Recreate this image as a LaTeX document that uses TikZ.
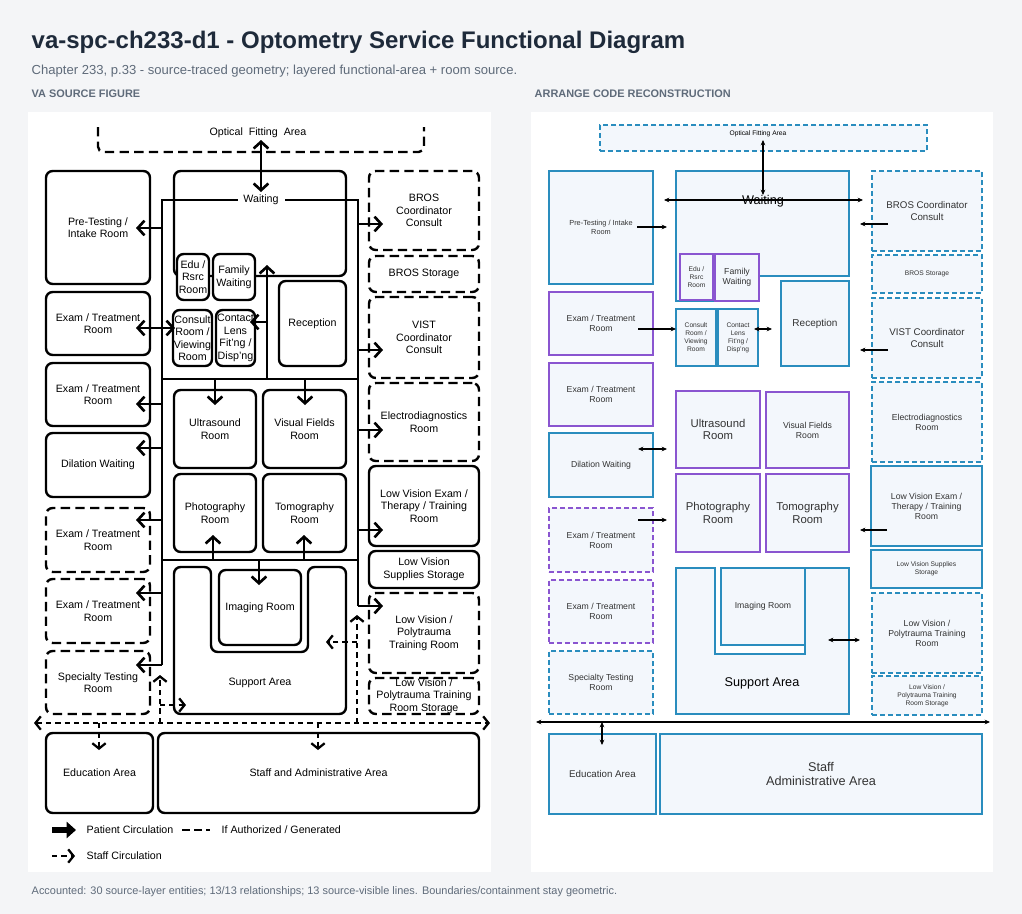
\documentclass[tikz,border=0pt]{standalone}
\usepackage{fontspec}
\setmainfont{Liberation Sans}
\usetikzlibrary{arrows.meta}
\definecolor{pagebg}{HTML}{F4F5F7}
\definecolor{ttl}{HTML}{1E2A3A}
\definecolor{sub}{HTML}{5F6B7A}
\definecolor{bl}{HTML}{2A8DBE}
\definecolor{pu}{HTML}{8A55D0}
\definecolor{lf}{HTML}{F3F7FC}
\newcommand\rb[7]{\node[#1,minimum width={(#5-#3)*0.75pt},minimum height={(#6-#4)*0.75pt}] (#2) at ({(#3+#5)/2},{(#4+#6)/2}) {#7};}
\tikzset{
 sb/.style={draw=black,line width=1.8pt,rounded corners=5pt,fill=white,align=center,inner sep=0pt,font=\fontsize{8}{9.4}\selectfont},
 db/.style={sb,dash pattern=on 7pt off 4pt},
 cor/.style={line width=2.2pt},
 hd/.tip={Straight Barb[length=5pt,width=11pt,line width=2pt]},
 pa/.style={cor,-{hd}},
 pab/.style={cor,{hd}-{hd}},
 sd/.tip={Straight Barb[length=4pt,width=10pt,line width=1.7pt]},
 sa/.style={line width=1.8pt,dash pattern=on 4pt off 3pt,-{sd}},
 sab/.style={line width=1.8pt,dash pattern=on 4pt off 3pt,{sd}-{sd}},
 bb/.style={draw=bl,line width=0.9pt,fill=lf,align=center,inner sep=0pt,text=black!80,font=\fontsize{6.5}{7.5}\selectfont},
 bd/.style={bb,dash pattern=on 3.5pt off 2.5pt},
 pb/.style={bb,draw=pu},
 pd/.style={pb,dash pattern=on 3.5pt off 2.5pt},
 ra/.style={line width=0.9pt,-{Stealth[length=4pt,width=3.5pt]}},
 rab/.style={line width=0.9pt,{Stealth[length=4pt,width=3.5pt]}-{Stealth[length=4pt,width=3.5pt]}},
 f5/.style={font=\fontsize{5}{6}\selectfont},
 f55/.style={font=\fontsize{5.5}{6.3}\selectfont},
 f73/.style={font=\fontsize{7.3}{8.3}\selectfont},
 f85/.style={font=\fontsize{8.5}{9.5}\selectfont},
 big/.style={font=\fontsize{9.5}{10.5}\selectfont},
}
\begin{document}
\begin{tikzpicture}[x=0.75pt,y=-0.75pt]
\useasboundingbox (0,0) rectangle (1022,914);
\fill[pagebg] (0,0) rectangle (1022,914);
\node[anchor=west,text=ttl,font=\fontsize{18}{20}\selectfont\bfseries] (title) at (27,42) {va-spc-ch233-d1 - Optometry Service Functional Diagram};
\node[anchor=west,text=sub,font=\fontsize{9.8}{11}\selectfont] (subt) at (27,71) {Chapter 233, p.33 - source-traced geometry; layered functional-area + room source.};
\node[anchor=west,text=sub,font=\fontsize{8.2}{9}\selectfont\bfseries] (lh) at (27,94) {VA SOURCE FIGURE};
\node[anchor=west,text=sub,font=\fontsize{8.2}{9}\selectfont\bfseries] (rh) at (530,94) {ARRANGE CODE RECONSTRUCTION};
\node[anchor=west,text=sub,font=\fontsize{8.2}{9}\selectfont] (foot) at (27,892) {Accounted: 30 source-layer entities; 13/13 relationships; 13 source-visible lines. Boundaries/containment stay geometric.};
\fill[white] (28,112) rectangle (491,872);
\fill[white] (531,112) rectangle (993,872);
% ===== LEFT =====
\draw[line width=1.8pt,dash pattern=on 7pt off 4pt,rounded corners=4pt] (98,127) -- (98,152) -- (424,152) -- (424,127);
\node[font=\fontsize{8}{9}\selectfont] (lofa) at (258,133) {Optical\ \ Fitting\ \ Area};
\rb{sb}{lpre}{46}{171}{150}{284}{Pre-Testing /\\Intake Room}
\rb{sb}{lex1}{46}{292}{150}{355}{Exam / Treatment\\Room}
\rb{sb}{lex2}{46}{363}{150}{426}{Exam / Treatment\\Room}
\rb{sb}{ldil}{46}{433}{150}{497}{Dilation Waiting}
\rb{db}{lex3}{46}{508}{150}{572}{Exam / Treatment\\Room}
\rb{db}{lex4}{46}{579}{150}{643}{Exam / Treatment\\Room}
\rb{db}{lspe}{46}{651}{150}{714}{Specialty Testing\\Room}
\rb{sb}{lwait}{174}{171}{346}{276}{}
\rb{sb}{ledu}{177}{254}{209}{300}{Edu /\\Rsrc\\Room}
\rb{sb}{lfam}{213}{254}{255}{300}{Family\\Waiting}
\rb{sb}{lcon}{173}{310}{212}{366}{Consult\\Room /\\Viewing\\Room}
\rb{sb}{lcl}{216}{310}{255}{366}{Contact\\Lens\\Fit'ng /\\Disp'ng}
\rb{sb}{lrec}{279}{281}{346}{366}{Reception}
\rb{sb}{lus}{174}{390}{256}{468}{Ultrasound\\Room}
\rb{sb}{lvf}{263}{390}{346}{468}{Visual Fields\\Room}
\rb{sb}{lph}{174}{474}{256}{552}{Photography\\Room}
\rb{sb}{lto}{263}{474}{346}{552}{Tomography\\Room}
\draw[line width=1.8pt,rounded corners=5pt,fill=white] (211,567) -- (211,652) -- (308,652) -- (308,567) -- (346,567) -- (346,714) -- (174,714) -- (174,567) -- cycle;
\node[font=\fontsize{8}{9}\selectfont] (lsup) at (260,683) {Support Area};
\rb{sb}{lim}{219}{570}{301}{645}{Imaging Room}
\rb{db}{lbros}{369}{171}{479}{250}{BROS\\Coordinator\\Consult}
\rb{db}{lbst}{369}{256}{479}{292}{BROS Storage}
\rb{db}{lvist}{369}{297}{479}{378}{VIST\\Coordinator\\Consult}
\rb{db}{lel}{369}{383}{479}{461}{Electrodiagnostics\\Room}
\rb{sb}{llve}{369}{466}{479}{546}{Low Vision Exam /\\Therapy / Training\\Room}
\rb{sb}{llvs}{369}{551}{479}{588}{Low Vision\\Supplies Storage}
\rb{db}{llvp}{369}{593}{479}{673}{Low Vision /\\Polytrauma\\Training Room}
\rb{db}{llvst}{369}{678}{479}{714}{Low Vision /\\Polytrauma Training\\Room Storage}
\rb{sb}{ledua}{46}{733}{153}{813}{Education Area}
\rb{sb}{lstaff}{158}{733}{479}{813}{Staff and Administrative Area}
% corridors
\coordinate (c1) at (162,200); \coordinate (c2) at (358,200);
\draw[cor] (162,665) -- (c1) -- (238,200);
\draw[cor] (285,200) -- (c2) -- (358,606);
\node[font=\fontsize{8}{9}\selectfont] (lwl) at (261,200) {Waiting};
\draw[cor] (162,379) -- (358,379);
\draw[cor] (162,560) -- (358,560);
\draw[pa] (267,379) -- (267,265);
\draw[pa] (267,322) -- (250,322);
\draw[pab] (261,140) -- (261,192);
\draw[pa] (162,228) -- (136,228);
\draw[pab] (136,328) -- (175,328);
\draw[pa] (162,404) -- (136,404);
\draw[pa] (162,448) -- (136,448);
\draw[pa] (162,520) -- (136,520);
\draw[pa] (162,593) -- (136,593);
\draw[pa] (162,665) -- (136,665);
\draw[pa] (358,224) -- (383,224);
\draw[pa] (358,350) -- (383,350);
\draw[pa] (358,430) -- (383,430);
\draw[pa] (358,530) -- (383,530);
\draw[pa] (358,606) -- (383,606);
\draw[pa] (215,379) -- (215,405);
\draw[pa] (305,379) -- (305,405);
\draw[pa] (213,560) -- (213,535);
\draw[pa] (304,560) -- (304,535);
\draw[pa] (259,560) -- (259,585);
% staff
\draw[sab] (34,723) -- (490,723);
\draw[sa] (99,723) -- (99,750);
\draw[sa] (318,723) -- (318,750);
\draw[sa] (160,723) -- (160,675);
\draw[sa] (160,705) -- (186,705);
\draw[sa] (357,723) -- (357,615);
\draw[sa] (357,642) -- (326,642);
% legend
\draw[line width=4pt,-{Triangle[length=7pt,width=12pt]}] (52,830) -- (76,830);
\node[anchor=west,font=\fontsize{8}{9}\selectfont] (lg1) at (82,830) {Patient Circulation};
\draw[line width=1.8pt,dash pattern=on 6pt off 3pt] (182,830) -- (210,830);
\node[anchor=west,font=\fontsize{8}{9}\selectfont] (lg2) at (217,830) {If Authorized / Generated};
\draw[sa] (52,856) -- (75,856);
\node[anchor=west,font=\fontsize{8}{9}\selectfont] (lg3) at (82,856) {Staff Circulation};
% ===== RIGHT =====
\rb{bd}{rofa}{600}{125}{927}{151}{}
\node[f5] (rofal) at (758,134) {Optical Fitting Area};
\rb{bb,f55}{rpre}{549}{171}{653}{284}{Pre-Testing / Intake\\Room}
\rb{pb}{rex1}{549}{292}{653}{355}{Exam / Treatment\\Room}
\rb{pb}{rex2}{549}{363}{653}{426}{Exam / Treatment\\Room}
\rb{bb}{rdil}{549}{433}{653}{497}{Dilation Waiting}
\rb{pd}{rex3}{549}{508}{653}{572}{Exam / Treatment\\Room}
\rb{pd}{rex4}{549}{580}{653}{643}{Exam / Treatment\\Room}
\rb{bd}{rspe}{549}{651}{653}{714}{Specialty Testing\\Room}
\draw[draw=bl,line width=0.9pt,fill=lf] (676,171) -- (849,171) -- (849,276) -- (759,276) -- (759,301) -- (676,301) -- cycle;
\node[big] (rwaitl) at (763,201) {Waiting};
\rb{pb,f5}{redu}{680}{254}{713}{300}{Edu /\\Rsrc\\Room}
\rb{pb}{rfam}{715}{254}{759}{301}{Family\\Waiting}
\rb{bb,f5}{rcon}{676}{309}{716}{366}{Consult\\Room /\\Viewing\\Room}
\rb{bb,f5}{rcl}{718}{309}{758}{366}{Contact\\Lens\\Fit'ng /\\Disp'ng}
\rb{bb,font=\fontsize{7.5}{8.5}\selectfont}{rrec}{781}{281}{849}{366}{Reception}
\rb{pb,f85}{rus}{676}{391}{760}{468}{Ultrasound\\Room}
\rb{pb}{rvf}{766}{392}{849}{468}{Visual Fields\\Room}
\rb{pb,f85}{rph}{676}{474}{760}{552}{Photography\\Room}
\rb{pb,f85}{rto}{766}{474}{849}{552}{Tomography\\Room}
\draw[draw=bl,line width=0.9pt,fill=lf] (676,568) -- (715,568) -- (715,654) -- (805,654) -- (805,568) -- (849,568) -- (849,714) -- (676,714) -- cycle;
\node[big] (rsup) at (762,683) {Support Area};
\rb{bb}{rim}{721}{568}{805}{645}{Imaging Room}
\rb{bd,f73}{rbros}{872}{171}{982}{251}{BROS Coordinator\\Consult}
\rb{bd,f5}{rbst}{872}{255}{982}{293}{BROS Storage}
\rb{bd,f73}{rvist}{872}{298}{982}{378}{VIST Coordinator\\Consult}
\rb{bd}{rel}{872}{382}{982}{462}{Electrodiagnostics\\Room}
\rb{bb}{rlve}{871}{466}{982}{546}{Low Vision Exam /\\Therapy / Training\\Room}
\rb{bb,f5}{rlvs}{871}{550}{982}{588}{Low Vision Supplies\\Storage}
\rb{bd}{rlvp}{872}{593}{982}{673}{Low Vision /\\Polytrauma Training\\Room}
\rb{bd,f5}{rlvst}{872}{676}{982}{715}{Low Vision /\\Polytrauma Training\\Room Storage}
\rb{bb,f73}{redua}{549}{734}{656}{814}{Education Area}
\rb{bb,big}{rstaff}{660}{734}{982}{814}{Staff\\Administrative Area}
\draw[rab] (763,140) -- (763,195);
\draw[rab] (664,200) -- (863,200);
\draw[ra] (637,227) -- (667,227);
\draw[ra] (638,329) -- (676,329);
\draw[rab] (754,329) -- (772,329);
\draw[ra] (888,224) -- (860,224);
\draw[ra] (888,350) -- (860,350);
\draw[rab] (638,449) -- (667,449);
\draw[ra] (638,520) -- (667,520);
\draw[ra] (887,530) -- (860,530);
\draw[rab] (828,640) -- (860,640);
\draw[rab] (536,722) -- (990,722);
\draw[rab] (602,722) -- (602,745);
\end{tikzpicture}
\end{document}
